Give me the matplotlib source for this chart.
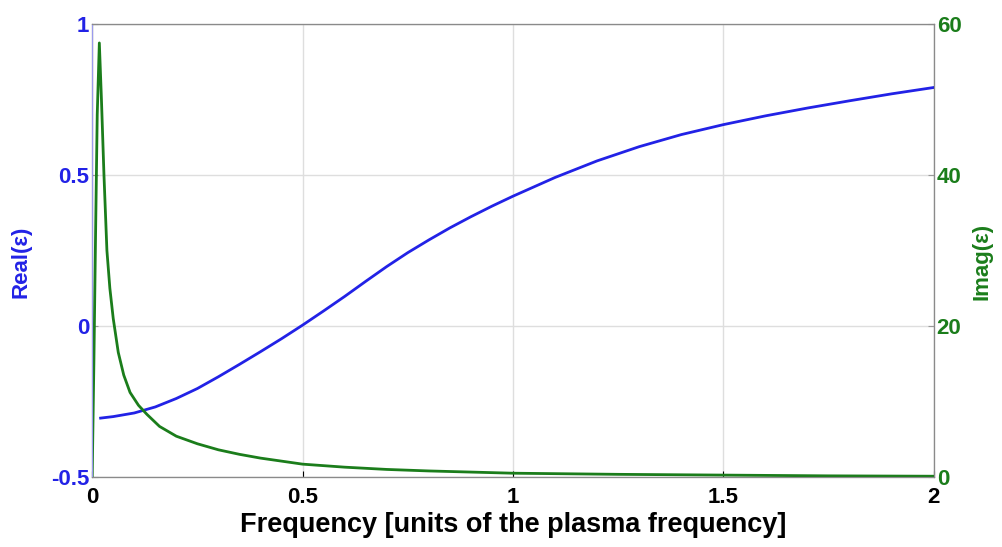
import matplotlib.pyplot as plt

# Datos
freq_real = [0.02, 0.05, 0.1, 0.15, 0.2, 0.25, 0.3, 0.35, 0.4, 0.45, 0.5, 0.55,
             0.6, 0.65, 0.7, 0.75, 0.8, 0.85, 0.9, 0.95, 1.0, 1.1, 1.2, 1.3,
             1.4, 1.5, 1.6, 1.7, 1.8, 1.9, 2.0]
eps_real = [-0.305, -0.30, -0.288, -0.268, -0.24, -0.207, -0.168, -0.127, -0.085, -0.042,
            0.003, 0.05, 0.098, 0.148, 0.197, 0.243, 0.285, 0.325, 0.362, 0.397, 0.43,
            0.492, 0.547, 0.594, 0.634, 0.667, 0.696, 0.722, 0.746, 0.769, 0.79]

freq_imag = [0.0, 0.004, 0.008, 0.012, 0.017, 0.022, 0.028, 0.035, 0.042, 0.05, 0.062,
             0.075, 0.09, 0.11, 0.13, 0.16, 0.2, 0.25, 0.3, 0.35, 0.4, 0.5, 0.6,
             0.7, 0.8, 0.9, 1.0, 1.25, 1.5, 1.75, 2.0]
eps_imag = [0.0, 15, 32, 48, 57.5, 50, 40, 30, 25, 21, 16.5,
            13.5, 11.2, 9.5, 8.3, 6.7, 5.4, 4.4, 3.6, 3.0, 2.5, 1.7, 1.3,
            1.0, 0.8, 0.65, 0.5, 0.35, 0.25, 0.15, 0.1]

azul = "#2222e6"
verde = "#1b7d1b"

plt.rcParams["font.family"] = ["Liberation Sans", "DejaVu Sans"]
plt.rcParams["font.weight"] = "bold"

fig = plt.figure(figsize=(10.02, 5.47), dpi=100)
ax = fig.add_axes([0.092, 0.128, 0.840, 0.828])
ax2 = ax.twinx()

ax.plot(freq_real, eps_real, color=azul, linewidth=2)
ax2.plot(freq_imag, eps_imag, color=verde, linewidth=2)

ax.set_xlim(0, 2)
ax.set_ylim(-0.5, 1)
ax2.set_ylim(0, 60)
ax.set_xticks([0, 0.5, 1, 1.5, 2])
ax.set_xticklabels(["0", "0.5", "1", "1.5", "2"])
ax.set_yticks([-0.5, 0, 0.5, 1])
ax.set_yticklabels(["-0.5", "0", "0.5", "1"])
ax2.set_yticks([0, 20, 40, 60])

ax.grid(True, color="#dedede", linewidth=1.0)

ax.tick_params(axis="x", direction="in", labelsize=16, colors="black", length=4, pad=7)
ax.tick_params(axis="y", direction="in", labelsize=16, labelcolor=azul, color="#999999", length=4, pad=2)
ax2.tick_params(axis="y", direction="in", labelsize=16, labelcolor=verde, color="#999999", length=4, pad=2)
for lab in ax.get_xticklabels() + ax.get_yticklabels() + ax2.get_yticklabels():
    lab.set_fontweight("bold")

for sp in ax2.spines.values():
    sp.set_color("#8a8a8a")
ax2.spines["left"].set_color("#9a9aee")

ax.set_xlabel("Frequency [units of the plasma frequency]", fontsize=19.5, fontweight="bold", labelpad=3)
ax.set_ylabel("Real(ε)", fontsize=16, fontweight="bold", color=azul)
ax2.set_ylabel("Imag(ε)", fontsize=16, fontweight="bold", color=verde, rotation=90)
ax.yaxis.set_label_coords(-0.072, 0.475)
ax2.yaxis.set_label_coords(1.045, 0.475)

fig.savefig("out.png", dpi=100)
